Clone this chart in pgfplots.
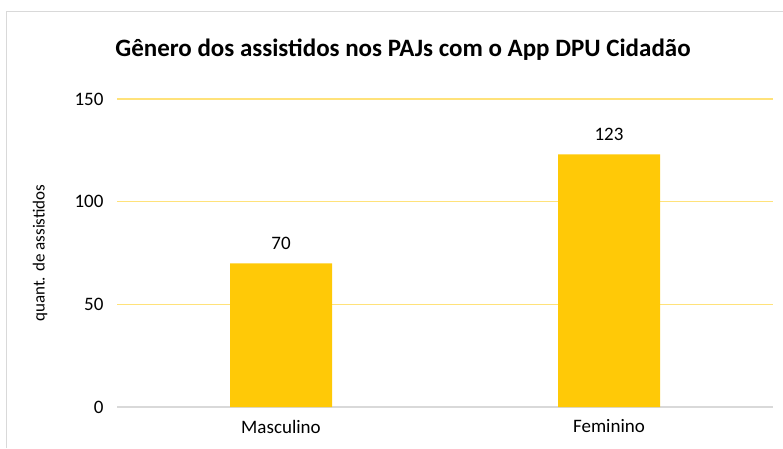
\documentclass[border=0pt]{standalone}
\usepackage{pgfplots}
\pgfplotsset{compat=1.18}
\usepackage{fontspec}
\setmainfont{Carlito}
\definecolor{barc}{HTML}{FFC907}
\definecolor{gridc}{HTML}{FFE27A}
\definecolor{framec}{HTML}{D9D9D9}
\begin{document}
\begin{tikzpicture}[x=1pt,y=1pt]
\useasboundingbox (0,0) rectangle (783,448);
\draw[framec,line width=1pt] (6,0) -- (6,436) -- (783,436);
\node[font=\fontsize{25}{30}\selectfont\bfseries] at (403,398) {Gênero dos assistidos nos PAJs com o App DPU Cidadão};
\begin{axis}[
  at={(117pt,41pt)}, anchor=south west,
  scale only axis, width=656pt, height=308pt,
  xmin=-0.5, xmax=1.5, ymin=0, ymax=150,
  xtick=data, xticklabels={Masculino,Feminino},
  ytick={0,50,100,150},
  ymajorgrids, major grid style={draw=gridc,line width=1.3pt},
  axis x line*=bottom, axis y line*=left,
  x axis line style={framec,line width=1.2pt,-},
  y axis line style={draw=none},
  tick style={draw=none},
  ticklabel style={font=\fontsize{19}{22}\selectfont},
  /pgf/number format/assume math mode=true,
  yticklabel style={xshift=-10pt},
  xticklabel style={yshift=-5pt},
  ylabel={quant. de assistidos},
  ylabel style={font=\fontsize{17}{20}\selectfont, at={(axis description cs:-0.1174,0.5)}, anchor=center},
  ybar, bar width=102pt,
  nodes near coords,
  nodes near coords style={font=\fontsize{19}{22}\selectfont, yshift=10pt},
]
\addplot[fill=barc, draw=none] coordinates {(0,70) (1,123)};
\end{axis}
\end{tikzpicture}
\end{document}
